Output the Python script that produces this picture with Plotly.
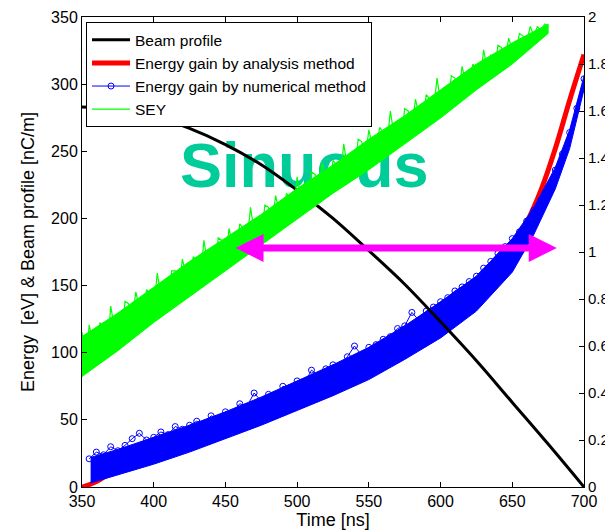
import plotly.graph_objects as go

# ---------------- data ----------------
# Beam profile (left axis, nC/m)
beam_t = [350, 375, 400, 425, 450, 475, 500, 525, 550, 575, 600, 625, 650, 675, 700]
beam_v = [283, 281, 276, 267, 255, 240, 221, 200, 176, 151, 123, 94, 63, 32, 0]

# Energy gain by analysis method (left axis, eV)
ana_t = [350, 360, 375, 400, 425, 450, 475, 500, 525, 550, 575, 600, 620, 640, 650, 660, 670, 680, 690, 700]
ana_e = [0, 4, 14, 25, 35, 45, 56, 67, 79, 91, 106, 124, 142, 165, 180, 197, 221, 252, 288, 322]

# Energy gain by numerical method: envelope of the dense point cloud (eV)
num_env_t = [356, 375, 400, 425, 450, 475, 500, 525, 550, 575, 600, 625, 650, 665, 680, 690, 700]
num_low = [3, 9, 17, 26, 36, 46, 57, 68, 80, 95, 111, 131, 160, 188, 222, 252, 296]
num_high = [22, 28, 37, 46, 56, 67, 79, 91, 104, 120, 138, 157, 185, 208, 238, 266, 306]
# sampled points of the numerical series (eV)
num_t = [355, 360, 365, 370, 375, 380, 385, 390, 395, 400, 405, 410, 415, 420, 425, 430, 435, 440,
         445, 450, 455, 460, 465, 470, 475, 480, 485, 490, 495, 500, 505, 510, 515, 520, 525, 530,
         535, 540, 545, 550, 555, 560, 565, 570, 575, 580, 585, 590, 595, 600, 605, 610, 615, 620,
         625, 630, 635, 640, 645, 650, 655, 660, 665, 670, 675, 680, 685, 690, 695, 700]
num_e = [21, 26, 24, 30, 27, 31, 36, 40, 35, 37, 41, 39, 45, 43, 46, 49, 47, 53,
         51, 56, 55, 62, 60, 70, 64, 69, 67, 75, 74, 79, 77, 87, 83, 88, 91, 90,
         97, 105, 98, 104, 106, 110, 112, 118, 120, 130, 124, 131, 134, 138, 141, 146, 149, 153,
         157, 163, 168, 174, 179, 185, 190, 198, 206, 214, 223, 236, 248, 264, 282, 304]

# SEY (right axis): core of the noisy band and sampled noisy points
sey_env_t = [350, 375, 400, 425, 450, 475, 500, 525, 550, 575, 600, 625, 650, 675]
sey_low = [0.47, 0.58, 0.70, 0.81, 0.92, 1.03, 1.14, 1.25, 1.35, 1.46, 1.57, 1.69, 1.80, 1.93]
sey_top = [0.64, 0.74, 0.85, 0.96, 1.06, 1.16, 1.27, 1.37, 1.48, 1.58, 1.69, 1.80, 1.89, 1.97]
sey_t = [350, 352.5, 355, 357.5, 360, 362.5, 365, 367.5, 370, 372.5, 375, 377.5, 380, 382.5, 385, 387.5,
         390, 392.5, 395, 397.5, 400, 402.5, 405, 407.5, 410, 412.5, 415, 417.5, 420, 422.5, 425, 427.5,
         430, 432.5, 435, 437.5, 440, 442.5, 445, 447.5, 450, 452.5, 455, 457.5, 460, 462.5, 465, 467.5,
         470, 472.5, 475, 477.5, 480, 482.5, 485, 487.5, 490, 492.5, 495, 497.5, 500, 502.5, 505, 507.5,
         510, 512.5, 515, 517.5, 520, 522.5, 525, 527.5, 530, 532.5, 535, 537.5, 540, 542.5, 545, 547.5,
         550, 552.5, 555, 557.5, 560, 562.5, 565, 567.5, 570, 572.5, 575, 577.5, 580, 582.5, 585, 587.5,
         590, 592.5, 595, 597.5, 600, 602.5, 605, 607.5, 610, 612.5, 615, 617.5, 620, 622.5, 625, 627.5,
         630, 632.5, 635, 637.5, 640, 642.5, 645, 647.5, 650, 652.5, 655, 657.5, 660, 662.5, 665, 667.5,
         670, 672.5, 675]
sey_v = [0.66, 0.50, 0.69, 0.62, 0.58, 0.70, 0.68, 0.55, 0.77, 0.68, 0.74, 0.62, 0.79, 0.78, 0.71, 0.83,
         0.76, 0.69, 0.84, 0.82, 0.76, 0.91, 0.81, 0.87, 0.76, 0.92, 0.92, 0.85, 0.97, 0.90, 0.84, 0.98,
         0.96, 0.88, 1.05, 0.95, 1.01, 0.92, 1.06, 1.05, 0.96, 1.10, 1.03, 0.99, 1.12, 1.10, 1.04, 1.19,
         1.09, 1.15, 1.05, 1.20, 1.19, 1.12, 1.24, 1.17, 1.12, 1.25, 1.23, 1.17, 1.32, 1.23, 1.29, 1.19,
         1.34, 1.33, 1.26, 1.38, 1.31, 1.27, 1.39, 1.37, 1.31, 1.46, 1.36, 1.42, 1.33, 1.48, 1.47, 1.40,
         1.52, 1.45, 1.41, 1.53, 1.51, 1.45, 1.60, 1.50, 1.56, 1.47, 1.61, 1.60, 1.53, 1.65, 1.58, 1.55,
         1.67, 1.65, 1.59, 1.74, 1.64, 1.70, 1.61, 1.75, 1.74, 1.67, 1.79, 1.72, 1.68, 1.80, 1.78, 1.72,
         1.86, 1.78, 1.84, 1.77, 1.88, 1.87, 1.82, 1.91, 1.86, 1.85, 1.93, 1.92, 1.89, 1.96, 1.92, 1.96,
         1.94, 1.97, 1.96]

# annotations
label_text = "Sinuous"
label_pos = (505, 235)
arrow_left = 456
arrow_right = 681
arrow_level = 178

x_ticks = [350, 400, 450, 500, 550, 600, 650, 700]
y_ticks = [0, 50, 100, 150, 200, 250, 300, 350]
y2_ticks = [0, 0.2, 0.4, 0.6, 0.8, 1, 1.2, 1.4, 1.6, 1.8, 2]

FONT = "Liberation Sans, Arial, sans-serif"

fig = go.Figure()

# big label underneath the data
fig.add_trace(go.Scatter(x=[label_pos[0]], y=[label_pos[1]], mode="text", text=[label_text],
                         textfont=dict(family=FONT, size=63, color="#00CC99", weight="bold"),
                         showlegend=False, hoverinfo="skip"))

# analysis method (red)
fig.add_trace(go.Scatter(x=ana_t, y=ana_e, mode="lines", name="Energy gain by analysis method",
                         line=dict(color="#FF0000", width=5, shape="spline"), legendrank=2))

# numerical method band + points (blue)
fig.add_trace(go.Scatter(x=num_env_t + num_env_t[::-1], y=num_low + num_high[::-1], mode="lines",
                         fill="toself", fillcolor="#0000FF", line=dict(color="#0000FF", width=1),
                         showlegend=False, hoverinfo="skip"))
fig.add_trace(go.Scatter(x=num_t, y=num_e, mode="lines+markers", name="Energy gain by numerical method",
                         line=dict(color="#0000FF", width=1),
                         marker=dict(symbol="circle-open", size=6, color="#0000FF", line=dict(width=1)),
                         legendrank=3))

# beam profile (black)
fig.add_trace(go.Scatter(x=beam_t, y=beam_v, mode="lines", name="Beam profile",
                         line=dict(color="black", width=3, shape="spline"), legendrank=1))

# SEY (green) on right axis
fig.add_trace(go.Scatter(x=sey_env_t + sey_env_t[::-1], y=sey_low + sey_top[::-1], mode="lines",
                         fill="toself", fillcolor="#00FF00", line=dict(color="#00FF00", width=1),
                         yaxis="y2", showlegend=False, hoverinfo="skip"))
fig.add_trace(go.Scatter(x=sey_t, y=sey_v, mode="lines", name="SEY", yaxis="y2",
                         line=dict(color="#00FF00", width=1.2), legendrank=4))

# double-headed magenta arrow
fig.add_annotation(x=arrow_right, y=arrow_level, ax=arrow_left, ay=arrow_level,
                   xref="x", yref="y", axref="x", ayref="y", text="", showarrow=True,
                   arrowhead=2, arrowsize=0.8, arrowwidth=7, arrowcolor="#FF00FF",
                   arrowside="end+start", startarrowhead=2, startarrowsize=0.8)

axis_common = dict(showline=True, linecolor="black", linewidth=1, ticks="inside", ticklen=5,
                   tickcolor="black", showgrid=False, zeroline=False, automargin=False,
                   tickfont=dict(family=FONT, size=16, color="black"))

# the page body adds an 8 px offset, so the figure is 8 px smaller than the window
fig.update_layout(
    width=605, height=524,
    margin=dict(l=74, r=29, t=9, b=45, autoexpand=False),
    paper_bgcolor="white", plot_bgcolor="white",
    font=dict(family=FONT, color="black"),
    showlegend=True,
    legend=dict(x=0.008, y=0.989, xanchor="left", yanchor="top", bgcolor="white",
                bordercolor="black", borderwidth=1, font=dict(family=FONT, size=15.5),
                tracegroupgap=0, itemwidth=38),
    xaxis=dict(range=[350, 700], tickvals=x_ticks, mirror="ticks",
               title=dict(text="Time [ns]", font=dict(family=FONT, size=18), standoff=4),
               **axis_common),
    yaxis=dict(range=[0, 350], tickvals=y_ticks,
               title=dict(text="Energy\u00a0 [eV] & Beam profile [nC/m]", font=dict(family=FONT, size=18),
                          standoff=11),
               **axis_common),
    yaxis2=dict(range=[0, 2], tickvals=y2_ticks, overlaying="y", side="right", ticklabelstandoff=0,
                **{**axis_common, "tickfont": dict(family=FONT, size=15, color="black")}),
)

fig.write_html("out.html")
